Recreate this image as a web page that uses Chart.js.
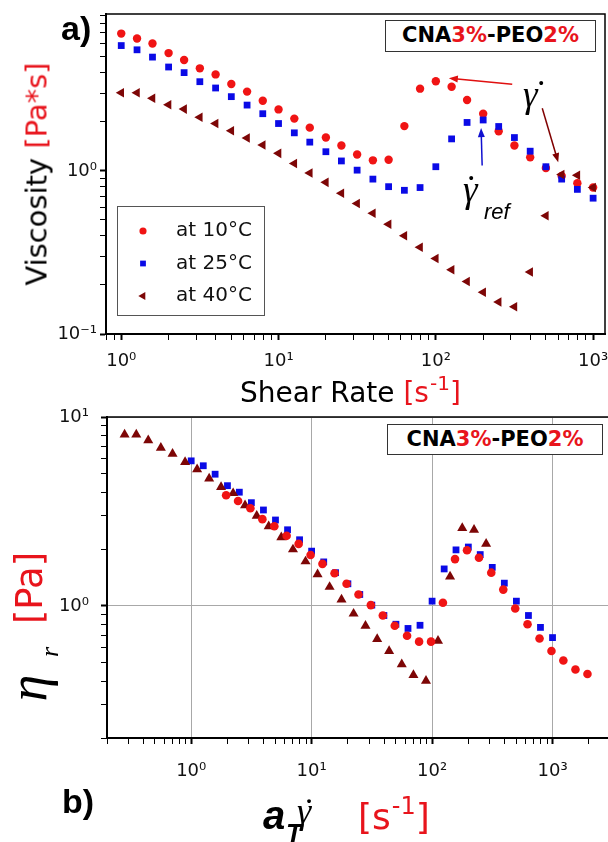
<!DOCTYPE html>
<html>
<head>
<meta charset="utf-8">
<script src="https://cdn.jsdelivr.net/npm/chart.js@4.4.1/dist/chart.umd.min.js"></script>
<style>
html, body { margin: 0; padding: 0; background: #fff; }
body { width: 608px; height: 842px; position: relative; overflow: hidden; font-family: 'DejaVu Sans', sans-serif; }
canvas { position: absolute; left: 0; }
#viscChart { top: 0; }
#masterChart { top: 400px; }
.txt { position: absolute; white-space: nowrap; line-height: 1; color: #000; }
.red { color: #e8141c; }
.tag { position: absolute; box-sizing: border-box; border: 1px solid #333; background: #fff;
       font: bold 21px 'DejaVu Sans'; line-height: 29px; text-align: center; }
.gam { font-family: 'Liberation Serif', serif; font-style: italic; }
.dot { font-family: 'Liberation Serif', serif; }
.rot { transform: translate(-50%, -50%) rotate(-90deg); }
</style>
</head>
<body>
<canvas id="viscChart" width="608" height="400"></canvas>
<canvas id="masterChart" width="612" height="400"></canvas>

<!-- panel a -->
<div class="txt" style="left:61px; top:9px; font:bold 34px 'Liberation Sans'">a)</div>
<div class="txt rot" style="left:37px; top:174px; font-size:29px">Viscosity <span class="red">[Pa*s]</span></div>
<div class="txt" style="left:240px; top:379px; font-size:28px">Shear Rate <span class="red">[s<span style="font-size:20px; position:relative; top:-12px; margin-left:1px">-1</span>]</span></div>
<div class="tag" style="left:385px; top:20px; width:211px; height:32px">CNA<span class="red">3%</span>-PEO<span class="red">2%</span></div>
<div class="txt gam" style="left:523px; top:76px; font-size:37px">γ</div>
<div class="txt dot" style="left:535px; top:75px; font-size:37px">˙</div>
<div class="txt gam" style="left:463px; top:171px; font-size:37px">γ</div>
<div class="txt dot" style="left:465px; top:170px; font-size:37px">˙</div>
<div class="txt" style="left:484px; top:199px; font:italic 22px 'Liberation Sans'">ref</div>

<!-- panel b -->
<div class="tag" style="left:387px; top:424px; width:216px; height:31px">CNA<span class="red">3%</span>-PEO<span class="red">2%</span></div>
<div class="txt rot red" style="left:29px; top:588px; font-size:37px">[Pa]</div>
<div class="txt rot gam" style="left:50px; top:652px; font-size:26px">r</div>
<div class="txt rot gam" style="left:28px; top:688px; font-size:54px">η</div>
<div class="txt" style="left:62px; top:782px; font:bold 34px 'Liberation Sans'">b)</div>
<div class="txt" style="left:263px; top:793px; font:italic bold 40px 'Liberation Sans'">a</div>
<div class="txt" style="left:286px; top:818px; font:italic bold 26px 'Liberation Sans'">T</div>
<div class="txt gam" style="left:297px; top:793px; font-size:36px">γ</div>
<div class="txt dot" style="left:303px; top:793px; font-size:36px">˙</div>
<div class="txt red" style="left:358px; top:799px; font-size:36px">[s<span style="font-size:24px; position:relative; top:-15px; margin-left:1px">-1</span>]</div>

<script>
/* top panel: viscosity vs shear rate */
var shearRate = [1, 1.26, 1.58, 2, 2.51, 3.16, 3.98, 5.01, 6.31, 7.94, 10, 12.6, 15.8, 20, 25.1, 31.6, 39.8, 50.1, 63.1, 79.4, 100, 126, 158, 200, 251, 316, 398, 501, 631, 794, 1000];
var visc10 = [6.94, 6.47, 6.03, 5.27, 4.78, 4.25, 3.90, 3.41, 3.06, 2.69, 2.38, 2.09, 1.84, 1.60, 1.43, 1.26, 1.16, 1.17, 1.88, 3.19, 3.54, 3.28, 2.72, 2.24, 1.75, 1.43, 1.21, 1.04, 0.93, 0.84, 0.79];
var visc25 = [5.86, 5.52, 4.98, 4.33, 4.00, 3.52, 3.22, 2.85, 2.53, 2.24, 1.95, 1.71, 1.50, 1.31, 1.15, 1.01, 0.89, 0.80, 0.76, 0.79, 1.06, 1.57, 1.98, 2.05, 1.87, 1.60, 1.32, 1.06, 0.89, 0.77, 0.68];
var visc40 = [3.01, 3.01, 2.79, 2.54, 2.39, 2.13, 1.95, 1.76, 1.59, 1.44, 1.28, 1.11, 0.97, 0.85, 0.73, 0.63, 0.55, 0.47, 0.40, 0.34, 0.29, 0.248, 0.21, 0.18, 0.157, 0.147, 0.24, 0.53, 0.95, 0.94, 0.79];

/* bottom panel: reduced curves */
var rate10 = [1.95, 2.45, 3.1, 3.9, 4.9, 6.2, 7.8, 9.8, 12.3, 15.5, 19.5, 24.5, 31, 39, 49, 62, 78, 98, 123, 155, 195, 245, 310, 390, 490, 620, 780, 980, 1230, 1550, 1950];
var eta10 = [3.85, 3.59, 3.29, 2.88, 2.64, 2.35, 2.13, 1.86, 1.67, 1.49, 1.31, 1.15, 1.01, 0.89, 0.785, 0.695, 0.647, 0.647, 1.04, 1.77, 1.97, 1.80, 1.50, 1.22, 0.97, 0.80, 0.673, 0.577, 0.514, 0.461, 0.436];
var rate25 = [1, 1.26, 1.58, 2, 2.51, 3.16, 3.98, 5.01, 6.31, 7.94, 10, 12.6, 15.8, 20, 25.1, 31.6, 39.8, 50.1, 63.1, 79.4, 100, 126, 158, 200, 251, 316, 398, 501, 631, 794, 1000];
var eta25 = [5.86, 5.52, 4.98, 4.33, 4.00, 3.52, 3.22, 2.85, 2.53, 2.24, 1.95, 1.71, 1.50, 1.31, 1.15, 1.01, 0.89, 0.80, 0.76, 0.79, 1.06, 1.57, 1.98, 2.05, 1.87, 1.60, 1.32, 1.06, 0.89, 0.77, 0.68];
var rate40 = [0.28, 0.35, 0.44, 0.56, 0.70, 0.89, 1.12, 1.41, 1.77, 2.23, 2.8, 3.5, 4.4, 5.6, 7.0, 8.9, 11.2, 14.1, 17.7, 22.3, 28, 35, 44, 56, 70, 89, 112, 141, 178, 223, 281];
var eta40 = [8.07, 8.07, 7.53, 6.87, 6.39, 5.77, 5.28, 4.72, 4.26, 3.95, 3.41, 3.00, 2.64, 2.31, 1.99, 1.72, 1.47, 1.26, 1.08, 0.91, 0.785, 0.667, 0.577, 0.491, 0.431, 0.401, 0.654, 1.43, 2.58, 2.53, 2.13];

var seriesLabels = ['at 10°C', 'at 25°C', 'at 40°C'];

var RED = '#f01414', BLUE = '#0a0ae6', MAROON = '#7d0606';
var SUP = { '-': '\u207B', '0': '\u2070', '1': '\u00B9', '2': '\u00B2', '3': '\u00B3' };

function pts(xs, ys) {
    return xs.map(function (x, i) { return { x: x, y: ys[i] }; });
}

// 1..9 x 10^n inside the axis range
function buildLogTicks(scale) {
    var ticks = [];
    for (var e = -2; e <= 4; e++) {
        for (var m = 1; m <= 9; m++) {
            var v = +(m * Math.pow(10, e)).toPrecision(2);
            if (v >= scale.min - 1e-9 && v <= scale.max + 1e-9) ticks.push({ value: v, major: m === 1 });
        }
    }
    scale.ticks = ticks;
}

function decadeLabel(value, index, ticks) {
    if (!ticks[index].major) return '';
    var e = String(Math.round(Math.log10(value)));
    return '10' + e.split('').map(function (c) { return SUP[c]; }).join('');
}

function logAxis(min, max, size, pad, gridColor, isX) {
    return {
        type: 'logarithmic', min: min, max: max,
        afterBuildTicks: buildLogTicks,
        afterFit: function (s) {
            if (isX) s.height = size; else s.width = size;
            s.paddingLeft = 0;
            s.paddingRight = 0;
            s.paddingTop = 0;
            s.paddingBottom = 0;
        },
        border: { color: '#000', width: 2 },
        grid: {
            drawOnChartArea: !!gridColor,
            color: function (c) { return gridColor && c.tick && c.tick.major ? gridColor : 'rgba(0,0,0,0)'; },
            tickColor: '#000', tickLength: 6,
            tickWidth: function (c) { return c.tick && c.tick.major ? 2 : 1; }
        },
        ticks: {
            autoSkip: false, maxRotation: 0, padding: pad, color: '#111',
            font: { family: 'DejaVu Sans', size: 18 },
            callback: decadeLabel
        }
    };
}

var frame = {
    id: 'frame',
    afterDraw: function (chart) {
        var a = chart.chartArea, ctx = chart.ctx;
        ctx.save();
        ctx.strokeStyle = '#000';
        ctx.lineWidth = 1.5;
        ctx.strokeRect(a.left, a.top, a.right - a.left, a.bottom - a.top);
        ctx.restore();
    }
};

var boxLegend = {
    id: 'boxLegend',
    afterDraw: function (chart) {
        var ctx = chart.ctx, a = chart.chartArea;
        var left = a.left + 11, top = a.top + 192, w = 147, h = 109;
        ctx.save();
        ctx.fillStyle = '#fff';
        ctx.fillRect(left, top, w, h);
        ctx.strokeStyle = '#555';
        ctx.lineWidth = 1;
        ctx.strokeRect(left + 0.5, top + 0.5, w, h);
        ctx.font = "20px 'DejaVu Sans'";
        ctx.textBaseline = 'middle';
        chart.data.datasets.forEach(function (ds, i) {
            var y = top + 25 + i * 32.5;
            ctx.fillStyle = ds.pointBackgroundColor;
            Chart.helpers.drawPoint(ctx, { pointStyle: ds.pointStyle, radius: ds.pointRadius * 0.85, rotation: ds.pointRotation || 0, borderWidth: 0 }, left + 26, y);
            ctx.fillStyle = '#111';
            ctx.fillText(ds.label, left + 59, y);
        });
        ctx.restore();
    }
};

// arrows of the top panel, in data coordinates
var arrowNotes = [
    { from: [306, 3.40], to: [121, 3.70], color: '#e01010' },
    { from: [475, 2.42], to: [600, 1.13], color: '#800000' },
    { from: [197, 1.08], to: [194, 1.83], color: '#1010d0' }
];

var arrows = {
    id: 'arrows',
    afterDatasetsDraw: function (chart) {
        var ctx = chart.ctx, sx = chart.scales.x, sy = chart.scales.y;
        arrowNotes.forEach(function (n) {
            var x0 = sx.getPixelForValue(n.from[0]), y0 = sy.getPixelForValue(n.from[1]);
            var x1 = sx.getPixelForValue(n.to[0]), y1 = sy.getPixelForValue(n.to[1]);
            var ang = Math.atan2(y1 - y0, x1 - x0), c = Math.cos(ang), s = Math.sin(ang);
            ctx.save();
            ctx.strokeStyle = n.color;
            ctx.fillStyle = n.color;
            ctx.lineWidth = 1.5;
            ctx.beginPath();
            ctx.moveTo(x0, y0);
            ctx.lineTo(x1 - 6 * c, y1 - 6 * s);
            ctx.stroke();
            ctx.beginPath();
            ctx.moveTo(x1, y1);
            ctx.lineTo(x1 - 9 * c + 3.5 * s, y1 - 9 * s - 3.5 * c);
            ctx.lineTo(x1 - 9 * c - 3.5 * s, y1 - 9 * s + 3.5 * c);
            ctx.closePath();
            ctx.fill();
            ctx.restore();
        });
    }
};

function ds(label, data, style, radius, color, rotation, order) {
    return {
        label: label, data: data, order: order,
        pointStyle: style, pointRadius: radius, pointRotation: rotation,
        pointBackgroundColor: color, pointBorderColor: color, pointBorderWidth: 0,
        backgroundColor: color, borderColor: color, showLine: false
    };
}

Chart.defaults.font.family = 'DejaVu Sans';

window.viscChart = new Chart(document.getElementById('viscChart'), {
    type: 'scatter',
    data: {
        datasets: [
            ds(seriesLabels[0], pts(shearRate, visc10), 'circle', 4.2, RED, 0, 3),
            ds(seriesLabels[1], pts(shearRate, visc25), 'rect', 4.8, BLUE, 0, 2),
            ds(seriesLabels[2], pts(shearRate, visc40), 'triangle', 5.5, MAROON, -90, 1)
        ]
    },
    options: {
        responsive: false, animation: false, events: [],
        layout: { autoPadding: false, padding: { top: 14, right: 3, left: 0, bottom: 0 } },
        plugins: { legend: { display: false }, tooltip: { enabled: false } },
        scales: {
            x: logAxis(0.8, 1190, 66, 11, null, true),
            y: logAxis(0.1, 9.15, 106, 3, null, false)
        }
    },
    plugins: [frame, boxLegend, arrows]
});

window.masterChart = new Chart(document.getElementById('masterChart'), {
    type: 'scatter',
    data: {
        datasets: [
            ds(seriesLabels[0], pts(rate10, eta10), 'circle', 4.3, RED, 0, 1),
            ds(seriesLabels[1], pts(rate25, eta25), 'rect', 4.8, BLUE, 0, 3),
            ds(seriesLabels[2], pts(rate40, eta40), 'triangle', 5.8, MAROON, 0, 2)
        ]
    },
    options: {
        responsive: false, animation: false, events: [],
        layout: { autoPadding: false, padding: { top: 17, right: 2, left: 0, bottom: 0 } },
        plugins: { legend: { display: false }, tooltip: { enabled: false } },
        scales: {
            x: logAxis(0.2, 3000, 62, 17, '#a8a8a8', true),
            y: logAxis(0.2, 10, 107, 12, '#a8a8a8', false)
        }
    },
    plugins: [frame]
});
</script>
</body>
</html>
